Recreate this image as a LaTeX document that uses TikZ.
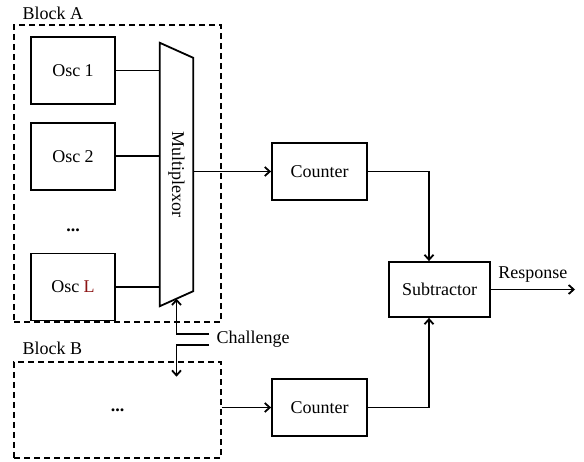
\documentclass[tikz,border=0pt]{standalone}
\usepackage{fontspec}
\setmainfont{Liberation Serif}
\usepackage{tikz}
\usetikzlibrary{shapes.geometric, arrows.meta, calc, positioning}
\definecolor{oscred}{RGB}{140,20,20}
\tikzstyle{process} = [rectangle, minimum width=95pt, minimum height=57pt, text centered, draw=black, line width=1.8pt]
\tikzstyle{osc} = [rectangle, minimum width=84pt, minimum height=67pt, text centered, draw=black, line width=1.8pt]
\tikzstyle{block} = [rectangle, draw=black, dash pattern=on 6pt off 4pt, line width=1.8pt]
\tikzstyle{arrow} = [line width=1.8pt,-{Straight Barb[length=5pt,width=9pt]}]
\tikzstyle{wire} = [line width=1.8pt]

\begin{document}
\begin{tikzpicture}[x=1pt, y=-1pt, font=\fontsize{18}{21}\selectfont]
\useasboundingbox (0,0) rectangle (584,462);

% Nodes
\node (blockA) [block, minimum width=207pt, minimum height=297pt] at (117.5,173.5) {};
\node (blockB) [block, minimum width=207pt, minimum height=96pt] at (117.5,410) {\textbf{...}};
\node (labA) [anchor=base west] at (19,19.5) {Block A};
\node (labB) [anchor=base west] at (19,355) {Block B};
\node (osc1) [osc] at (73,70.5) {Osc 1};
\node (osc2) [osc, below=17pt of osc1] {Osc 2};
\node (oscL) [osc, below=62pt of osc2] {Osc \textcolor{oscred}{L}};
\node (dotsA) [yshift=-9pt] at ($(osc2.south)!0.5!(oscL.north)$) {\textbf{...}};
\node (mux) [minimum width=33pt, minimum height=263pt, inner sep=0pt] at (176.5,174.5) {};
\node (muxlab) [rotate=-90] at (mux) {Multiplexor};
\node (cnt1) [process] at (319.5,171.5) {Counter};
\node (cnt2) [process] at (319.5,407.5) {Counter};
\node (sub) [process, minimum width=101pt, minimum height=55pt] at (439.5,289.5) {Subtractor};
\node (chal) [anchor=west] at (213,339) {Challenge};
\coordinate (muxin) at ($(mux.south)+(0,-7.5)$);
\coordinate (bin) at ($(muxin)+(0,78)$);
\coordinate (resp) at (575,289.5);

% Multiplexor outline
\draw [wire] (mux.north west) -- ($(mux.north east)+(0,15)$) -- ($(mux.south east)+(0,-15)$) -- (mux.south west) -- cycle;

% Arrows
\draw [wire] (osc1.east) -- (osc1.east -| mux.west);
\draw [wire] (osc2.east) -- (osc2.east -| mux.west);
\draw [wire] (oscL.east) -- (oscL.east -| mux.west);
\draw [arrow] (cnt1.west -| mux.east) -- (cnt1.west);
\draw [arrow] (blockB.east |- cnt2.west) -- (cnt2.west);
\draw [arrow] (cnt1.east) -| ($(sub.north)+(-10.5,0)$);
\draw [arrow] (cnt2.east) -| ($(sub.south)+(-10.5,0)$);
\draw [arrow] (sub.east) -- node[above=3pt] {Response} (resp);
\draw [arrow] ($(chal.west)+(-4,-5)$) -| (muxin);
\draw [arrow] ($(chal.west)+(-4,6)$) -| (bin);

\end{tikzpicture}
\end{document}
